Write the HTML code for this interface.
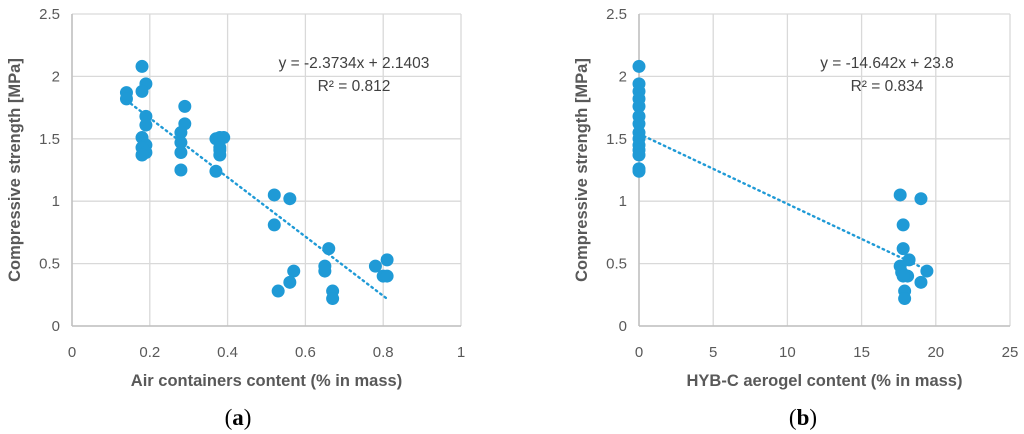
<!DOCTYPE html>
<html><head><meta charset="utf-8"><style>
body{margin:0;background:#fff;width:1024px;height:434px;overflow:hidden}
svg{display:block;font-family:"Liberation Sans",sans-serif}
</style></head><body>
<svg id="c" width="1024" height="434"></svg>
<script>
const yTicks=[0,0.5,1,1.5,2,2.5];
const xTicksA=[0,0.2,0.4,0.6,0.8,1];
const xLabelsA=["0","0.2","0.4","0.6","0.8","1"];
const xTicksB=[0,5,10,15,20,25];
const airX=[0.14,0.14,0.18,0.19,0.18,0.19,0.19,0.18,0.19,0.18,0.19,0.18,0.29,0.29,0.28,0.28,0.28,0.28,0.37,0.37,0.38,0.39,0.38,0.38,0.38,0.52,0.56,0.52,0.57,0.56,0.53,0.66,0.65,0.65,0.67,0.67,0.78,0.81,0.80,0.81];
const airY=[1.87,1.82,2.08,1.94,1.88,1.68,1.61,1.51,1.45,1.43,1.39,1.37,1.76,1.62,1.55,1.47,1.39,1.25,1.24,1.50,1.51,1.51,1.43,1.37,1.41,1.05,1.02,0.81,0.44,0.35,0.28,0.62,0.48,0.44,0.28,0.22,0.48,0.53,0.40,0.40];
const hybX=[0,0,0,0,0,0,0,0,0,0,0,0,0,0,17.6,19.0,17.8,17.8,18.2,17.6,17.7,18.1,17.8,19.4,19.0,17.9,17.9];
const hybY=[2.08,1.94,1.88,1.82,1.76,1.68,1.62,1.55,1.50,1.45,1.41,1.37,1.26,1.24,1.05,1.02,0.81,0.62,0.53,0.48,0.43,0.40,0.40,0.44,0.35,0.28,0.22];
const trendAX=[0.14,0.81];
const trendBX=[0,19.4];
const trendBY=[1.54,0.45];
const NS="http://www.w3.org/2000/svg";
const svg=document.getElementById('c');
function mk(t,a,txt){const e=document.createElementNS(NS,t);for(const k in a)e.setAttribute(k,a[k]);if(txt!==undefined)e.textContent=txt;svg.appendChild(e);return e;}
function chart(o){
  const sx=v=>o.x0+(v-o.xmin)/(o.xmax-o.xmin)*(o.x1-o.x0);
  const sy=v=>326-v/2.5*312;
  o.xt.forEach((v,i)=>{
    const l=mk('line',{x1:sx(v),x2:sx(v),y1:14,y2:326,stroke:'#d9d9d9','stroke-width':1.3});
    
    
    const t=mk('text',{x:sx(v),y:357,'text-anchor':'middle','font-size':15,fill:'#595959'},o.xl[i]);
    
    
  });
  yTicks.forEach(v=>{
    const l=mk('line',{x1:o.x0,x2:o.x1,y1:sy(v),y2:sy(v),stroke:'#d9d9d9','stroke-width':1.3});
    
    
    const t=mk('text',{x:o.x0-12,y:sy(v)+5,'text-anchor':'end','font-size':15,fill:'#595959'},String(v));
    
    
  });
  const ax=mk('line',{x1:o.x0,x2:o.x1,y1:326,y2:326,stroke:'#bfbfbf','stroke-width':1.5});
  
  
  const ay=mk('line',{x1:o.x0,x2:o.x0,y1:14,y2:326,stroke:'#bfbfbf','stroke-width':1.5});
  
  
  o.X.forEach((v,i)=>{
    const c=mk('circle',{cx:sx(v),cy:sy(o.Y[i]),r:6.5,fill:'#1f9ad6'});
    
    
  });
  const tl=mk('line',{x1:sx(o.tx[0]),y1:sy(o.ty[0]),x2:sx(o.tx[1]),y2:sy(o.ty[1]),stroke:'#1f9ad6','stroke-width':2.4,'stroke-dasharray':'1.5 4','stroke-linecap':'round'});
  
  
  const e1=mk('text',{x:o.ex,y:68,'text-anchor':'middle','font-size':15.5,fill:'#404040'},o.eq);
  
  
  const e2=mk('text',{x:o.ex,y:91,'text-anchor':'middle','font-size':15.5,fill:'#404040'},o.r2);
  
  
  const xt=mk('text',{x:(o.x0+o.x1)/2,y:386,'text-anchor':'middle','font-size':16.5,'font-weight':'bold',fill:'#595959'},o.xtitle);
  
  
  const yt=mk('text',{x:0,y:0,'text-anchor':'middle','font-size':16.5,'font-weight':'bold',fill:'#595959',transform:`translate(${o.x0-52},170) rotate(-90)`},'Compressive strength [MPa]');
  
  
  const cap=mk('text',{x:o.cx,y:425,'text-anchor':'middle','font-size':23,'font-family':'"Liberation Serif",serif',fill:'#000'});
  
  
  cap.innerHTML='(<tspan font-weight="bold">'+o.letter+'</tspan>)';
}
const trendAY=trendAX.map(x=>-2.3734*x+2.1403);
chart({p:'chart-a',x0:72,x1:461,xmin:0,xmax:1,xt:xTicksA,xl:xLabelsA,X:airX,Y:airY,tx:trendAX,ty:trendAY,ex:354,eq:'y = -2.3734x + 2.1403',r2:'R² = 0.812',xtitle:'Air containers content (% in mass)',cx:238,letter:'a'});
chart({p:'chart-b',x0:639,x1:1010,xmin:0,xmax:25,xt:xTicksB,xl:xTicksB.map(String),X:hybX,Y:hybY,tx:trendBX,ty:trendBY,ex:887,eq:'y = -14.642x + 23.8',r2:'R² = 0.834',xtitle:'HYB-C aerogel content (% in mass)',cx:803,letter:'b'});
</script>
</body></html>
